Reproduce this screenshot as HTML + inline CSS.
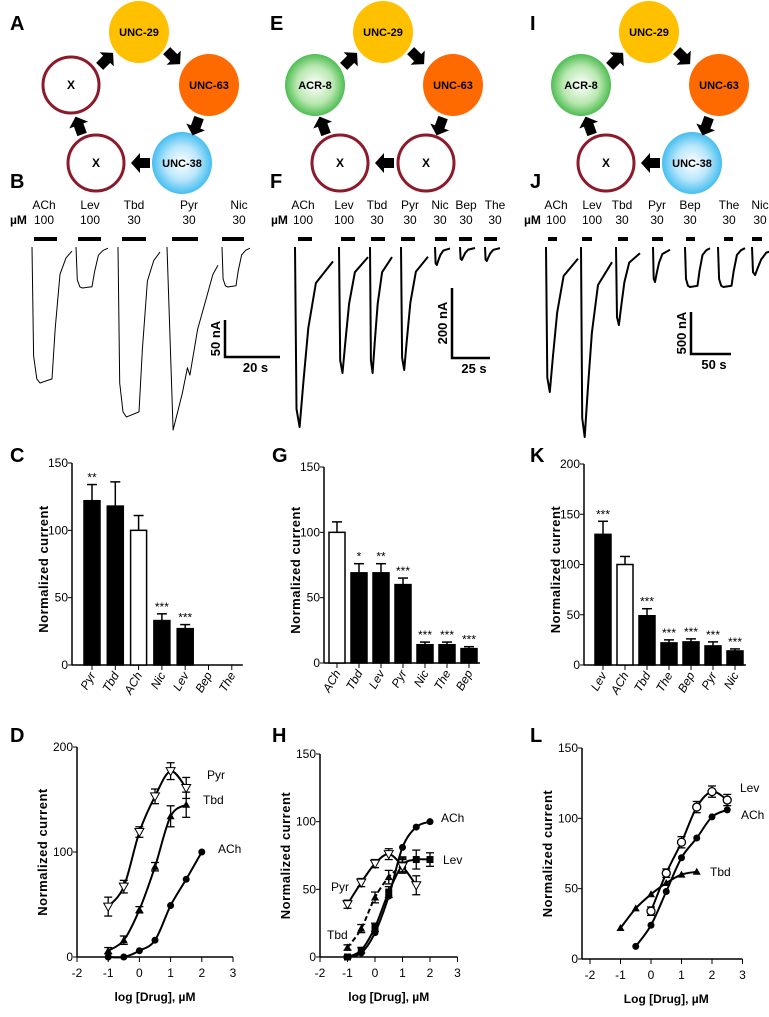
<!DOCTYPE html>
<html><head><meta charset="utf-8"><style>
body{margin:0;background:#fff}
svg{display:block}
text{font-family:"Liberation Sans",Arial,sans-serif}
.n{font-family:"Liberation Sans Narrow","Liberation Sans",sans-serif;font-size:12px}
.b{font-weight:bold}
.pl{font-size:20px;font-weight:bold}
</style></head><body>
<svg id="fig" width="769" height="1017" viewBox="0 0 769 1017" xmlns="http://www.w3.org/2000/svg">
<defs>
<radialGradient id="gG" cx="50%" cy="50%" r="55%"><stop offset="0" stop-color="#fff"/><stop offset="0.55" stop-color="#b9e8b0"/><stop offset="1" stop-color="#33b23a"/></radialGradient>
<radialGradient id="gB" cx="50%" cy="50%" r="55%"><stop offset="0" stop-color="#fff"/><stop offset="0.5" stop-color="#b8e6fb"/><stop offset="1" stop-color="#2cb5ee"/></radialGradient>
</defs>
<g id="root"></g>
</svg>
<script>
// ---------- data ----------
const traceNamesB=["ACh","Lev","Tbd","Pyr","Nic"];
const traceConcB=["100","100","30","30","30"];
const traceDepthB=[136,41,170,183,40];
const traceNamesF=["ACh","Lev","Tbd","Pyr","Nic","Bep","The"];
const traceConcF=["100","100","30","30","30","30","30"];
const traceDepthF=[180,126,126,123,18,13,14];
const traceNamesJ=["ACh","Lev","Tbd","Pyr","Bep","The","Nic"];
const traceConcJ=["100","100","30","30","30","30","30"];
const traceDepthJ=[145,190,78,35,40,40,28];

const catC=["Pyr","Tbd","ACh","Nic","Lev","Bep","The"];
const valC=[122,118,100,33,27,0,0];
const errC=[134,136,111,38,30,0,0];
const sigC=["**","","","***","***","",""];
const catG=["ACh","Tbd","Lev","Pyr","Nic","The","Bep"];
const valG=[100,69,69,60,14,14,11];
const errG=[108,76,76,65,16,16,12.5];
const sigG=["","*","**","***","***","***","***"];
const catK=["Lev","ACh","Tbd","The","Bep","Pyr","Nic"];
const valK=[130,100,49,22,23,19,14];
const errK=[143,108,56,25,26,23,16];
const sigK=["***","","***","***","***","***","***"];

const dX=[-1,-0.5,0,0.5,1,1.5,2];
const dPyr=[48,67,119,153,177,161];
const dPyrE=[9,6,5,7,8,10];
const dTbd=[6,16,45,86,134,145];
const dTbdE=[3,4,3,4,10,12];
const dACh=[0,0,6,16,49,74,100];
const hPyr=[39,55,69,76,67,53];
const hPyrE=[3,3,3,4,5,7];
const hTbd=[7,21,44,59,68];
const hTbdE=[2,3,4,5,5];
const hLev=[0,5,22,48,68,72,72];
const hLevE=[1,2,3,4,6,7,5];
const hACh=[0,3,18,45,81,96,100];
const lX=[-1,-0.5,0,0.5,1,1.5,2,2.5];
const lTbd=[22,36,46,54,60,62];
const lACh=[null,9,24,48,72,86,101,106];
const lLev=[null,null,34,61,83,108,119,113];
const lLevE=[0,0,3,3,4,4,4,4];

// ---------- helpers ----------
const NS="http://www.w3.org/2000/svg";
const root=document.getElementById('root');
function mk(tag,attrs,parent,txt){const e=document.createElementNS(NS,tag);for(const k in attrs)e.setAttribute(k,attrs[k]);if(txt!==undefined)e.textContent=txt;(parent||root).appendChild(e);return e;}
function grp(name){const g=mk('g',{});return g;}
function label(t,x,y){const e=mk('text',{x:x,y:y,class:'pl'},root,t);}

// ---------- schematics ----------
function node(g,x,y,kind,txt){
  let e;
  if(kind==='x'){e=mk('ellipse',{cx:x,cy:y,rx:28,ry:28,fill:'#fff',stroke:'#8c1a2b','stroke-width':3},g);}
  else{const fill={y:'#ffc000',o:'#ff6a00',g:'url(#gG)',b:'url(#gB)'}[kind];e=mk('ellipse',{cx:x,cy:y,rx:30,ry:31,fill:fill},g);}
  
  
  mk('text',{x:x,y:y+4,'text-anchor':'middle','font-size':kind==='x'?12:11,class:'b'},g,txt);
}
function arrow(g,x,y,ang){
  const a=mk('path',{d:'M-9,-5 L1,-5 L1,-10 L10,0 L1,10 L1,5 L-9,5 Z',fill:'#000',transform:`translate(${x},${y}) rotate(${ang})`},g);
  
  
}
function schematic(name,dx,nodes){
  const g=grp(name);
  const P=[[139,32],[209,85],[182,163],[96,163],[71,85]];
  nodes.forEach((n,i)=>node(g,P[i][0]+dx,P[i][1],n[0],n[1]));
  arrow(g,173+dx,57,45);arrow(g,196+dx,126,110);arrow(g,141+dx,163,180);arrow(g,79+dx,126,-110);arrow(g,106+dx,60,-45);
}
label('A',10,30);label('B',10,188);label('E',270,30);label('F',270,188);label('I',530,30);label('J',530,188);
schematic('schematic-a',0,[['y','UNC-29'],['o','UNC-63'],['b','UNC-38'],['x','X'],['x','X']]);
schematic('schematic-e',244,[['y','UNC-29'],['o','UNC-63'],['x','X'],['x','X'],['g','ACR-8']]);
schematic('schematic-i',510,[['y','UNC-29'],['o','UNC-63'],['b','UNC-38'],['x','X'],['g','ACR-8']]);

// ---------- traces ----------
const shapeBox=[[0,0],[0.04,0.8],[0.12,0.97],[0.2,1],[0.5,0.97],[0.58,0.6],[0.7,0.2],[0.85,0.08],[1,0.03]];
const shapeSpike=[[0,0],[0.04,0.9],[0.12,1],[0.22,0.75],[0.35,0.45],[0.55,0.2],[1,0.08]];
const shapeSlow=[[0,0],[0.12,1],[0.3,0.8],[0.4,0.66],[0.45,0.7],[0.6,0.45],[0.75,0.3],[0.9,0.15],[1,0.1]];
function traces(name,names,conc,depth,xr,bars,lc,uM,lw,shapes,scale){
  const g=grp(name);
  mk('text',{x:uM,y:224,class:'n b','font-size':11},g,'µM');
  names.forEach((n,i)=>{
    mk('text',{x:lc[i],y:209,'text-anchor':'middle',class:'n'},g,n);
    mk('text',{x:lc[i],y:224,'text-anchor':'middle',class:'n'},g,conc[i]);
    const b=mk('line',{x1:bars[i][0],x2:bars[i][1],y1:239,y2:239,stroke:'#000','stroke-width':4},g);
    
    
    const sh=shapes[i]==='b'?shapeBox:(shapes[i]==='w'?shapeSlow:shapeSpike);
    const [x0,x1]=xr[i];const y0=247;
    const d=sh.map((p,k)=>(k?'L':'M')+(x0+p[0]*(x1-x0)).toFixed(1)+','+(y0+p[1]*depth[i]).toFixed(1)).join(' ');
    const p=mk('path',{d:d,fill:'none',stroke:'#000','stroke-width':lw,'stroke-linejoin':'round'},g);
    
    
  });
  const s=scale;
  mk('path',{d:`M${s.x},${s.y1} L${s.x},${s.y2} L${s.x2},${s.y2}`,fill:'none',stroke:'#000','stroke-width':2.5},g);
  mk('text',{x:0,y:0,class:'b','font-size':13,'text-anchor':'middle',transform:`translate(${s.x-5},${(s.y1+s.y2)/2}) rotate(-90)`},g,s.v);
  mk('text',{x:(s.x+s.x2)/2+3,y:s.y2+15,class:'b','font-size':13,'text-anchor':'middle'},g,s.t);
}
traces('traces-b',traceNamesB,traceConcB,traceDepthB,[[32,72],[76,108],[118,160],[167,218],[222,250]],
  [[34,57],[78,101],[122,146],[172,198],[222,244]],[44,90,134,189,239],10,1,['b','b','b','w','b'],
  {x:225,y1:320,y2:357,x2:280,v:'50 nA',t:'20 s'});
traces('traces-f',traceNamesF,traceConcF,traceDepthF,[[295,333],[339,368],[370,392],[401,428],[435,450],[460,475],[485,500]],
  [[298,312],[341,355],[371,385],[401,415],[435,447],[459,472],[484,497]],[303,344,377,410,440,466,495],271,2,['s','s','s','s','s','s','s'],
  {x:452,y1:288,y2:358,x2:490,v:'200 nA',t:'25 s'});
traces('traces-j',traceNamesJ,traceConcJ,traceDepthJ,[[546,578],[581,612],[616,640],[653,670],[685,710],[718,745],[752,778]],
  [[548,557],[582,592],[618,628],[652,663],[686,695],[724,733],[752,762]],[556,592,622,657,690,729,760],524,2,['s','s','s','s','b','b','s'],
  {x:691,y1:312,y2:354,x2:731,v:'500 nA',t:'50 s'});

// ---------- bar charts ----------
function barChart(name,cats,vals,errs,sigs,ax,y0,yTop,maxV,ticks,firstX,step,open){
  const g=grp(name);
  const y=v=>y0-(y0-yTop)*v/maxV;
  const xEnd=firstX+step*(cats.length-1)+11;
  mk('line',{x1:ax,x2:ax,y1:yTop,y2:y0,stroke:'#000','stroke-width':1.5},g);
  mk('line',{x1:ax,x2:xEnd,y1:y0,y2:y0,stroke:'#000','stroke-width':1.5},g);
  ticks.forEach(t=>{mk('line',{x1:ax-4,x2:ax,y1:y(t),y2:y(t),stroke:'#000'},g);
    mk('text',{x:ax-4,y:y(t)+4,'text-anchor':'end',class:'n'},g,String(t));});
  mk('text',{x:0,y:0,class:'b','font-size':13,'text-anchor':'middle','letter-spacing':'0.5',transform:`translate(${ax-24},${(y0+yTop)/2+5}) rotate(-90)`},g,'Normalized current');
  cats.forEach((c,i)=>{
    const cx=firstX+step*i;
    mk('line',{x1:cx,x2:cx,y1:y0,y2:y0+5,stroke:'#000'},g);
    if(vals[i]>0){
      mk('line',{x1:cx,x2:cx,y1:y(errs[i]),y2:y(vals[i]),stroke:'#000','stroke-width':1.5},g);
      mk('line',{x1:cx-5,x2:cx+5,y1:y(errs[i]),y2:y(errs[i]),stroke:'#000','stroke-width':1.5},g);
      const r=mk('rect',{x:cx-8,y:y(vals[i]),width:16,height:y0-y(vals[i]),fill:c===open?'#fff':'#000',stroke:'#000','stroke-width':1.5},g);
      
      
    }
    if(sigs[i])mk('text',{x:cx,y:y(errs[i])-3,'text-anchor':'middle',class:'n','font-size':11},g,sigs[i]);
    mk('text',{x:0,y:0,'font-style':'italic',class:'n','text-anchor':'end',transform:`translate(${cx+4},${y0+10}) rotate(-60)`},g,c);
  });
}
label('C',10,462);label('G',272,462);label('K',530,462);
barChart('bar-chart-c',catC,valC,errC,sigC,72,665,463,150,[0,50,100,150],92,23.3,'ACh');
barChart('bar-chart-g',catG,valG,errG,sigG,324,663,467,150,[0,50,100,150],337,22,'ACh');
barChart('bar-chart-k',catK,valK,errK,sigK,584,665,464,200,[0,50,100,150,200],603,22,'ACh');

// ---------- dose-response ----------
function smooth(pts){
  let d='M'+pts[0][0]+','+pts[0][1];
  for(let i=0;i<pts.length-1;i++){
    const p0=pts[Math.max(0,i-1)],p1=pts[i],p2=pts[i+1],p3=pts[Math.min(pts.length-1,i+2)];
    d+=` C${p1[0]+(p2[0]-p0[0])/6},${p1[1]+(p2[1]-p0[1])/6} ${p2[0]-(p3[0]-p1[0])/6},${p2[1]-(p3[1]-p1[1])/6} ${p2[0]},${p2[1]}`;
  }
  return d;
}
function marker(g,kind,x,y){
  let e;
  if(kind==='tri')e=mk('path',{d:`M${x-4},${y+3} L${x+4},${y+3} L${x},${y-4} Z`,fill:'#000'},g);
  else if(kind==='itri')e=mk('path',{d:`M${x-4.5},${y-3.5} L${x+4.5},${y-3.5} L${x},${y+4.5} Z`,fill:'#fff',stroke:'#000'},g);
  else if(kind==='sq')e=mk('rect',{x:x-3.5,y:y-3.5,width:7,height:7,fill:'#000'},g);
  else if(kind==='oc')e=mk('circle',{cx:x,cy:y,r:4,fill:'#fff',stroke:'#000','stroke-width':1.3},g);
  else e=mk('circle',{cx:x,cy:y,r:3.5,fill:'#000'},g);
  
  
}
function doseChart(name,o,series,labels,title){
  const g=grp(name);
  const X=v=>o.x0+(v+2)*o.ux, Y=v=>o.y0-(o.y0-o.yTop)*v/o.max;
  mk('line',{x1:o.ax,x2:o.ax,y1:o.yTop,y2:o.y0,stroke:'#000','stroke-width':1.5},g);
  mk('line',{x1:o.ax,x2:X(3),y1:o.y0,y2:o.y0,stroke:'#000','stroke-width':1.5},g);
  o.ticks.forEach(t=>{mk('line',{x1:o.ax-4,x2:o.ax,y1:Y(t),y2:Y(t),stroke:'#000'},g);
    mk('text',{x:o.ax-4,y:Y(t)+4,'text-anchor':'end',class:'n'},g,String(t));});
  [-2,-1,0,1,2,3].forEach(t=>{mk('line',{x1:X(t),x2:X(t),y1:o.y0,y2:o.y0+5,stroke:'#000'},g);
    mk('text',{x:X(t),y:o.y0+20,'text-anchor':'middle',class:'n'},g,String(t));});
  mk('text',{x:0,y:0,class:'b','font-size':13,'text-anchor':'middle','letter-spacing':'0.5',transform:`translate(${o.ax-30},${(o.y0+o.yTop)/2}) rotate(-90)`},g,'Normalized current');
  mk('text',{x:X(0.5),y:o.y0+44,'text-anchor':'middle',class:'n b','font-size':13},g,title);
  series.forEach(s=>{
    const pts=[];
    s.v.forEach((v,i)=>{if(v!==null)pts.push([X(s.x[i]),Y(v),i]);});
    const c=mk('path',{d:smooth(pts.map(p=>[p[0],p[1]])),fill:'none',stroke:'#000','stroke-width':2,'stroke-dasharray':s.dash||''},g);
    
    
    pts.forEach(p=>{
      if(s.e&&s.e[p[2]]){const e=s.e[p[2]];
        mk('line',{x1:p[0],x2:p[0],y1:Y(s.v[p[2]]+e),y2:Y(s.v[p[2]]-e),stroke:'#000','stroke-width':1.3},g);
        [Y(s.v[p[2]]+e),Y(s.v[p[2]]-e)].forEach(yy=>mk('line',{x1:p[0]-4,x2:p[0]+4,y1:yy,y2:yy,stroke:'#000','stroke-width':1.3},g));}
      marker(g,s.m,p[0],p[1]);
    });
  });
  labels.forEach(l=>mk('text',{x:l[1],y:l[2],class:'n'},g,l[0]));
}
label('D',10,742);label('H',272,742);label('L',530,742);
doseChart('dose-response-d',{ax:77,x0:77,ux:31.2,y0:957,yTop:747,max:200,ticks:[0,100,200]},
 [{n:'ach',x:dX,v:dACh,m:'c'},{n:'tbd',x:dX,v:dTbd,e:dTbdE,m:'tri'},{n:'pyr',x:dX,v:dPyr,e:dPyrE,m:'itri'}],
 [['Pyr',207,779],['Tbd',203,804],['ACh',218,853]],'log [Drug], µM');
doseChart('dose-response-h',{ax:320,x0:320,ux:27.5,y0:957,yTop:754,max:150,ticks:[0,50,100,150]},
 [{n:'ach',x:dX,v:hACh,m:'c'},{n:'lev',x:dX,v:hLev,e:hLevE,m:'sq'},{n:'tbd',x:dX,v:hTbd,e:hTbdE,m:'tri',dash:'5,3'},{n:'pyr',x:dX,v:hPyr,e:hPyrE,m:'itri'}],
 [['ACh',441,822],['Lev',443,864],['Pyr',331,891],['Tbd',327,939]],'log [Drug], µM');
doseChart('dose-response-l',{ax:582,x0:590,ux:30.5,y0:959,yTop:748,max:150,ticks:[0,50,100,150]},
 [{n:'tbd',x:lX,v:lTbd,m:'tri'},{n:'ach',x:lX,v:lACh,m:'c'},{n:'lev',x:lX,v:lLev,e:lLevE,m:'oc'}],
 [['Lev',740,792],['ACh',741,819],['Tbd',710,876]],'Log [Drug], µM');
</script>
</body></html>
